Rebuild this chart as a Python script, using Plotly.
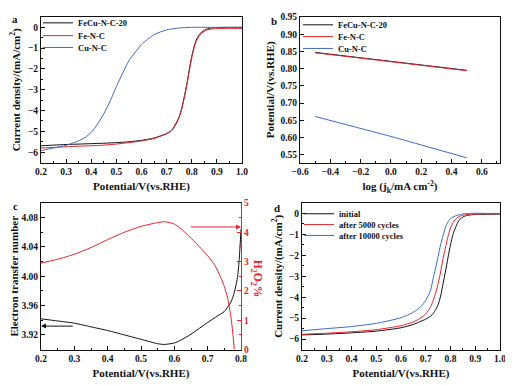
import plotly.graph_objects as go

# ---------------- data ----------------
# panel a: LSV curves
va = [0.2, 0.25, 0.3, 0.35, 0.4, 0.45, 0.5, 0.55, 0.6, 0.65, 0.7, 0.72, 0.74, 0.75, 0.76,
      0.77, 0.78, 0.79, 0.8, 0.81, 0.82, 0.83, 0.84, 0.85, 0.86, 0.88, 0.9, 0.95, 1.0]
a_fecu = [-5.69, -5.66, -5.63, -5.61, -5.59, -5.57, -5.54, -5.5, -5.43, -5.32, -5.1, -4.95, -4.55, -4.3, -3.9,
          -3.35, -2.75, -2.05, -1.4, -0.9, -0.55, -0.35, -0.22, -0.14, -0.08, -0.03, -0.01, 0.0, 0.0]
a_fe = [-5.8, -5.77, -5.74, -5.71, -5.69, -5.66, -5.61, -5.54, -5.46, -5.34, -5.12, -4.97, -4.6, -4.33, -3.93,
        -3.4, -2.8, -2.1, -1.45, -0.95, -0.62, -0.42, -0.29, -0.2, -0.13, -0.08, -0.06, -0.05, -0.05]
va_cu = [0.2, 0.25, 0.3, 0.35, 0.375, 0.4, 0.425, 0.45, 0.475, 0.5, 0.525, 0.55, 0.575, 0.6, 0.65, 0.7,
         0.75, 0.8, 0.9, 1.0]
a_cu = [-5.92, -5.8, -5.67, -5.45, -5.3, -5.05, -4.65, -4.15, -3.55, -2.85, -2.2, -1.6, -1.2, -0.82, -0.35,
        -0.12, -0.03, 0.0, 0.0, 0.0]

# panel b: Tafel plots
xb = [-0.5, -0.25, 0.0, 0.25, 0.5]
b_fecu = [0.847, 0.834, 0.821, 0.808, 0.795]
b_fe = [0.846, 0.833, 0.820, 0.807, 0.794]
b_cu = [0.661, 0.632, 0.603, 0.572, 0.541]

# panel c: electron transfer number and H2O2 %
vc = [0.2, 0.25, 0.3, 0.35, 0.4, 0.45, 0.5, 0.55, 0.57, 0.6, 0.62, 0.65, 0.7, 0.73, 0.75, 0.77, 0.78, 0.79, 0.795, 0.8]
n_e = [3.942, 3.939, 3.936, 3.931, 3.926, 3.920, 3.914, 3.908, 3.907, 3.909, 3.913, 3.921, 3.937, 3.946, 3.952,
       3.965, 3.978, 4.0, 4.025, 4.064]
vc_h = [0.2, 0.25, 0.3, 0.35, 0.4, 0.45, 0.5, 0.55, 0.57, 0.6, 0.62, 0.65, 0.68, 0.7, 0.72, 0.74, 0.75, 0.76,
        0.77, 0.775, 0.78]
h2o2 = [2.95, 3.08, 3.25, 3.48, 3.75, 4.0, 4.2, 4.33, 4.36, 4.28, 4.12, 3.8, 3.45, 3.2, 2.9, 2.45, 2.15, 1.75,
        1.1, 0.6, 0.0]

# panel d: stability
vd = [0.2, 0.3, 0.4, 0.5, 0.6, 0.65, 0.68, 0.7, 0.72, 0.73, 0.74, 0.75, 0.76, 0.77, 0.78, 0.79, 0.8, 0.81,
      0.82, 0.83, 0.84, 0.86, 0.88, 0.9, 0.95, 1.0]
d_init = [-5.8, -5.76, -5.7, -5.62, -5.46, -5.3, -5.15, -5.05, -4.9, -4.78, -4.6, -4.35, -3.95, -3.35, -2.75,
          -2.1, -1.5, -1.0, -0.68, -0.42, -0.25, -0.12, -0.07, -0.05, -0.04, -0.03]
d_5000 = [-5.77, -5.72, -5.65, -5.55, -5.36, -5.18, -4.98, -4.8, -4.45, -4.15, -3.8, -3.35, -2.8, -2.15, -1.6,
          -1.1, -0.7, -0.45, -0.28, -0.18, -0.12, -0.06, -0.04, -0.03, -0.02, -0.02]
d_10000 = [-5.6, -5.5, -5.4, -5.25, -4.98, -4.72, -4.45, -4.15, -3.65, -3.1, -2.6, -2.05, -1.5, -1.05, -0.65,
           -0.4, -0.25, -0.17, -0.12, -0.08, -0.05, -0.01, 0.0, 0.01, 0.0, 0.0]

legend_a = ["FeCu-N-C-20", "Fe-N-C", "Cu-N-C"]
legend_d = ["initial", "after 5000 cycles", "after 10000 cycles"]

# ---------------- style ----------------
OFF = 8            # default page margin of the html body
W, H = 513 - OFF, 385 - OFF
FONT = "Liberation Serif"
BLACK = "#111111"
RED = "#e6222b"
BLUE = "#3d6cc0"

def px_x(p):
    return (p - OFF) / W

def px_y(p):
    return 1 - (p - OFF) / H

fig = go.Figure()

# legends: one per entry so row spacing matches
leg_rows = {"a": (38, [17, 30, 42]), "b": (298, [19, 31, 43]), "d": (299, [211, 222, 233])}
leg_layout = {}
k = 0
def add_line(x, y, name, color, xa, ya, panel, idx):
    global k
    k += 1
    lname = "legend" if k == 1 else f"legend{k}"
    lx, rows = leg_rows[panel]
    leg_layout[lname] = dict(x=px_x(lx), y=px_y(rows[idx]), xanchor="left", yanchor="middle",
                             bgcolor="rgba(0,0,0,0)", font=dict(family=FONT, size=8.5, color=BLACK, weight="bold"),
                             itemwidth=30, borderwidth=0)
    fig.add_trace(go.Scatter(x=x, y=y, mode="lines", name=name, line=dict(color=color, width=1, shape="spline", smoothing=0.6),
                             xaxis=xa, yaxis=ya, legend=lname, showlegend=True))

# panel a
add_line(va, a_fecu, legend_a[0], BLACK, "x", "y", "a", 0)
add_line(va, a_fe, legend_a[1], RED, "x", "y", "a", 1)
add_line(va_cu, a_cu, legend_a[2], BLUE, "x", "y", "a", 2)
# panel b
add_line(xb, b_fecu, legend_a[0], BLACK, "x2", "y2", "b", 0)
add_line(xb, b_fe, legend_a[1], RED, "x2", "y2", "b", 1)
add_line(xb, b_cu, legend_a[2], BLUE, "x2", "y2", "b", 2)
# panel d
add_line(vd, d_init, legend_d[0], BLACK, "x4", "y4", "d", 0)
add_line(vd, d_5000, legend_d[1], RED, "x4", "y4", "d", 1)
add_line(vd, d_10000, legend_d[2], BLUE, "x4", "y4", "d", 2)
# panel c
fig.add_trace(go.Scatter(x=vc, y=n_e, mode="lines", line=dict(color=BLACK, width=1, shape="spline", smoothing=0.6),
                         xaxis="x3", yaxis="y3", showlegend=False))
fig.add_trace(go.Scatter(x=vc_h, y=h2o2, mode="lines", line=dict(color=RED, width=1, shape="spline", smoothing=0.6),
                         xaxis="x3", yaxis="y5", showlegend=False))

tickfont = dict(family=FONT, size=9.5, color=BLACK, weight="bold")
titlefont = dict(family=FONT, size=11, color=BLACK, weight="bold")

def ax(domain, rng, dtick, title, anchor, standoff, tickformat=None, color=BLACK, side=None, overlaying=None, mirror=True):
    d = dict(domain=domain, range=rng, dtick=dtick, tick0=0, showgrid=False, zeroline=False,
             showline=True, linecolor=color, linewidth=1, mirror=mirror,
             ticks="inside", ticklen=4, tickcolor=color, tickwidth=1,
             minor=dict(ticks="inside", ticklen=2, tickcolor=color, nticks=2),
             tickfont=dict(tickfont, color=color),
             title=dict(text=title, font=dict(titlefont, color=color), standoff=standoff),
             anchor=anchor, automargin=False)
    if tickformat:
        d["tickformat"] = tickformat
    if side:
        d["side"] = side
    if overlaying:
        d["overlaying"] = overlaying
    return d

xa_dom = [px_x(41), px_x(242)]
xb_dom = [px_x(300), px_x(500)]
xc_dom = [px_x(41), px_x(241)]
xd_dom = [px_x(302), px_x(500)]
ytop_dom = [px_y(159), px_y(11)]
ybot_dom = [px_y(349), px_y(200)]

pot = "Potential/V(vs.RHE)"
cur = "Current density/(mA/cm<sup>2</sup>)"

fig.update_layout(
    width=W, height=H, margin=dict(l=0, r=0, t=0, b=0),
    paper_bgcolor="white", plot_bgcolor="white",
    font=dict(family=FONT, color=BLACK),
    xaxis=ax(xa_dom, [0.2, 1.0], 0.1, pot, "y", 6, ".1f"),
    yaxis=ax(ytop_dom, [-6.5, 0.5], 1, cur, "x", 6),
    xaxis2=ax(xb_dom, [-0.6, 0.72], 0.2, "log (j<sub>k</sub>/mA cm<sup>-2</sup>)", "y2", 6, ".1f"),
    yaxis2=ax(ytop_dom, [0.527, 0.95], 0.05, "Potential/V(vs.RHE)", "x2", 3, ".2f"),
    xaxis3=ax(xc_dom, [0.2, 0.8], 0.1, pot, "y3", 6, ".1f"),
    yaxis3=ax(ybot_dom, [3.90, 4.10], 0.04, "Electron transfer number", "x3", 3, ".2f", mirror=False),
    yaxis5=ax(ybot_dom, [0, 5], 1, "", "x3", 3, None, color=RED, side="right", overlaying="y3", mirror=False),
    xaxis4=ax(xd_dom, [0.2, 1.0], 0.1, pot, "y4", 6, ".1f"),
    yaxis4=ax(ybot_dom, [-6.5, 0.5], 1, cur, "x4", 4),
    **leg_layout,
)
fig.update_layout(yaxis3=dict(tick0=3.92), yaxis2=dict(tick0=0.55))

ann = []
for t, x, y in [("a", 15, 13), ("b", 274, 15), ("c", 15, 203), ("d", 277, 205)]:
    ann.append(dict(text=t, x=px_x(x), y=px_y(y), xref="paper", yref="paper", showarrow=False,
                    xanchor="center", yanchor="middle",
                    font=dict(family=FONT, size=11, color=BLACK, weight="bold")))
ann.append(dict(text="H<sub>2</sub>O<sub>2</sub>%", x=px_x(257), y=px_y(276), xref="paper", yref="paper",
                xanchor="center", yanchor="middle",
                showarrow=False, textangle=90, font=dict(family=FONT, size=11.5, color=RED, weight="bold")))
# arrows pointing to the respective axes
ann.append(dict(x=0.2, y=3.932, ax=0.3, ay=3.932, xref="x3", yref="y3", axref="x3", ayref="y3", text="",
                showarrow=True, arrowhead=2, arrowsize=1, arrowwidth=1, arrowcolor=BLACK))
ann.append(dict(x=0.8, y=4.18, ax=0.645, ay=4.18, xref="x3", yref="y5", axref="x3", ayref="y5", text="",
                showarrow=True, arrowhead=2, arrowsize=1, arrowwidth=1, arrowcolor=RED))
fig.update_layout(annotations=ann)

fig.write_html("out.html")
